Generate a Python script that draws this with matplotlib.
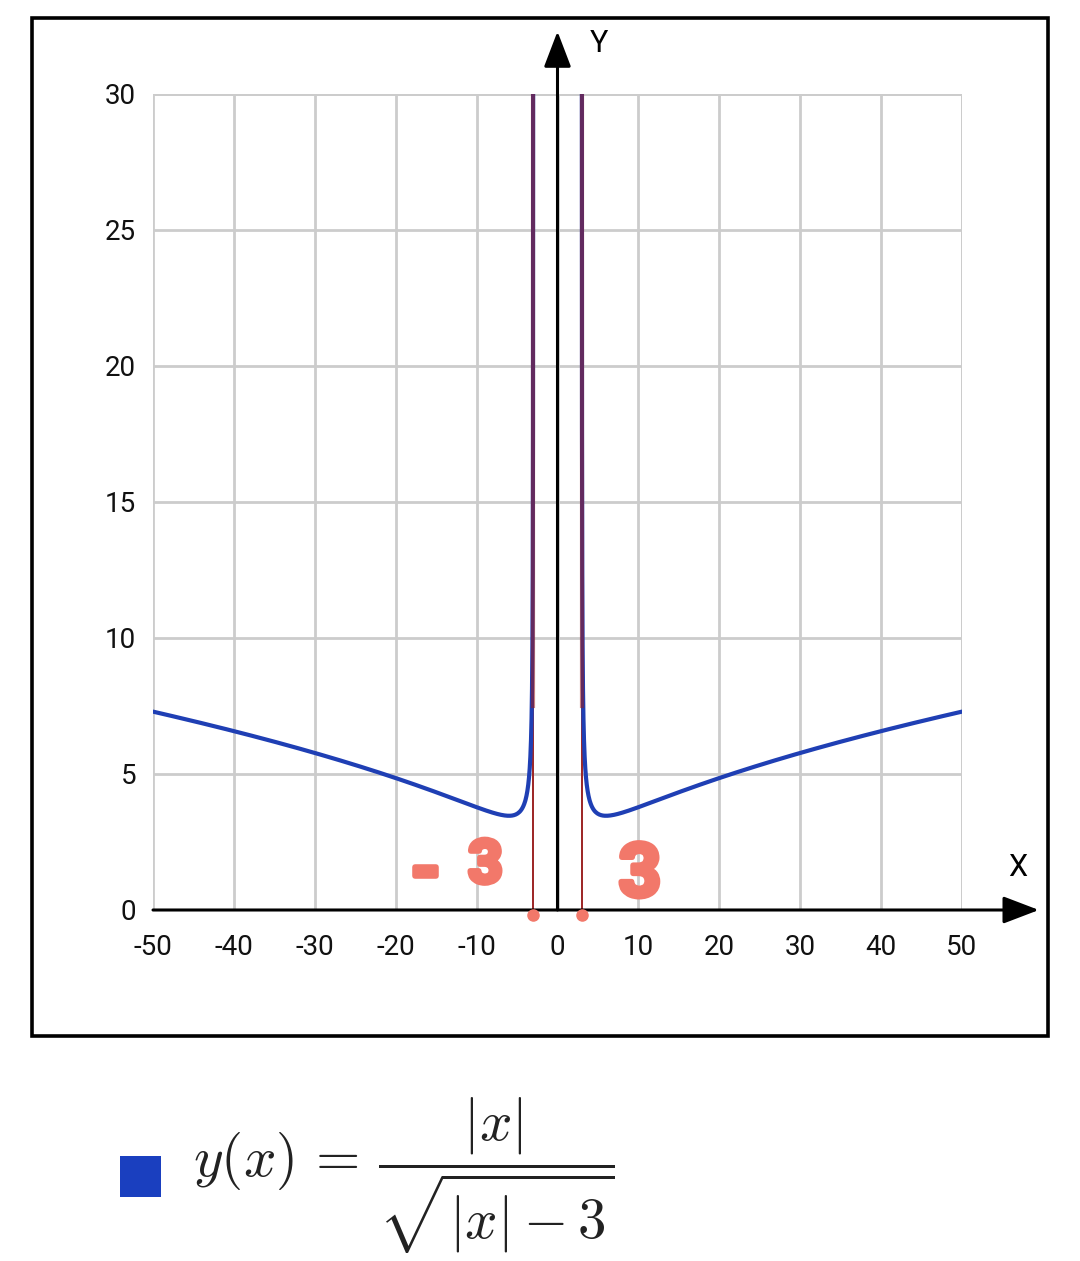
import numpy as np
import matplotlib
matplotlib.use("Agg")
import matplotlib.pyplot as plt
from matplotlib.patches import Rectangle
import matplotlib.patheffects as pe

plt.rcParams['font.family'] = ['Roboto', 'DejaVu Sans']
plt.rcParams['mathtext.fontset'] = 'cm'

# Axis ranges and ticks
x_ticks = [-50, -40, -30, -20, -10, 0, 10, 20, 30, 40, 50]
y_ticks = [0, 5, 10, 15, 20, 25, 30]
x_min, x_max = -50, 50
y_min, y_max = 0, 30

# Domain boundaries marked by hand (|x| = 3)
marks = [-3, 3]
mark_labels = ['-3', '3']

# Sample positions of |x| on each branch (dense next to the asymptote)
abs_x = np.concatenate([3 + np.geomspace(1e-4, 1.0, 400)[:-1],
                        np.linspace(4, 50, 400)])


def y_of(ax_):
    # y(x) = |x| / sqrt(|x| - 3)
    return ax_ / np.sqrt(ax_ - 3)


CURVE = '#1f3fb4'
HAND = '#f2786a'

fig = plt.figure(figsize=(10.8, 12.61), dpi=100)
ax = fig.add_axes([153 / 1080, 1 - 910 / 1261, 809 / 1080, 816 / 1261])
ax.set_xlim(x_min, x_max)
ax.set_ylim(y_min, y_max)
for s in ax.spines.values():
    s.set_visible(False)
ax.set_xticks(x_ticks)
ax.set_yticks(y_ticks)
ax.set_xticklabels([str(t) for t in x_ticks])
ax.set_yticklabels([str(t) for t in y_ticks])
ax.tick_params(length=0, labelsize=20, colors='#111111')
ax.tick_params(axis='x', pad=17)
ax.tick_params(axis='y', pad=12)
ax.grid(True, color='#cccccc', linewidth=2.0, zorder=0)
ax.set_axisbelow(True)

# Boundary grid lines at x = 50 and y = 30
ax.axvline(x_max, color='#cccccc', lw=2.0, zorder=0)
ax.axhline(y_max, color='#cccccc', lw=2.0, zorder=0)

# Thin boundary lines at |x| = 3 (under the curve)
for m in marks:
    ax.plot([m, m], [0, y_max], color='#9c2424', lw=1.4, zorder=2.5)

# Function branches
yy = y_of(abs_x)
ax.plot(abs_x, yy, color=CURVE, lw=3.0, zorder=3, solid_capstyle='round')
ax.plot(-abs_x, yy, color=CURVE, lw=3.0, zorder=3, solid_capstyle='round')

# Translucent red over the near-vertical part of the curve
for m in marks:
    ax.plot([m, m], [7.5, y_max], color='#9a1a1a', lw=3.0, alpha=0.55, zorder=4)
    ax.plot([m], [-0.18], 'o', color=HAND, ms=8, zorder=6, clip_on=False)

# Coordinate axes with arrows
arrow = dict(arrowstyle='-|>,head_length=1.1,head_width=0.42', mutation_scale=20,
             color='black', lw=2.2, shrinkA=0, shrinkB=0)
ax.annotate('', xy=(0, 32.3), xytext=(0, 0), arrowprops=arrow,
            zorder=5, annotation_clip=False)
ax.annotate('', xy=(59.5, 0), xytext=(x_min, 0), arrowprops=arrow,
            zorder=5, annotation_clip=False)
ax.text(5.1, 31.85, 'Y', fontsize=22, ha='center', va='center', clip_on=False)
ax.text(56.9, 1.55, 'X', fontsize=22, ha='center', va='center', clip_on=False)

# Handwritten labels
hand = dict(color=HAND, fontweight='bold', ha='center', va='center',
            clip_on=False, zorder=6,
            path_effects=[pe.withStroke(linewidth=4, foreground=HAND)])
ax.text(-16.3, 1.3, mark_labels[0][0], fontsize=54, **hand)
ax.text(-8.9, 1.6, mark_labels[0][1:], fontsize=43, **hand)
ax.text(10.2, 1.25, mark_labels[1], fontsize=53, **hand)

# Outer frame
fig.patches.append(Rectangle((32 / 1080, 1 - 1036 / 1261), 1016 / 1080, 1018 / 1261,
                             transform=fig.transFigure, fill=False,
                             edgecolor='black', lw=2.6))

# Legend
fig.patches.append(Rectangle((120 / 1080, 1 - 1197 / 1261), 41 / 1080, 41 / 1261,
                             transform=fig.transFigure, facecolor='#1a3fbf',
                             edgecolor='none'))
fig.text(193 / 1080, 1 - 1176 / 1261, r'$y(x)\,=\,\dfrac{|x|}{\sqrt{|x|-3}}$',
         fontsize=41, ha='left', va='center', color='#222222')

fig.savefig('out.png', dpi=100)
